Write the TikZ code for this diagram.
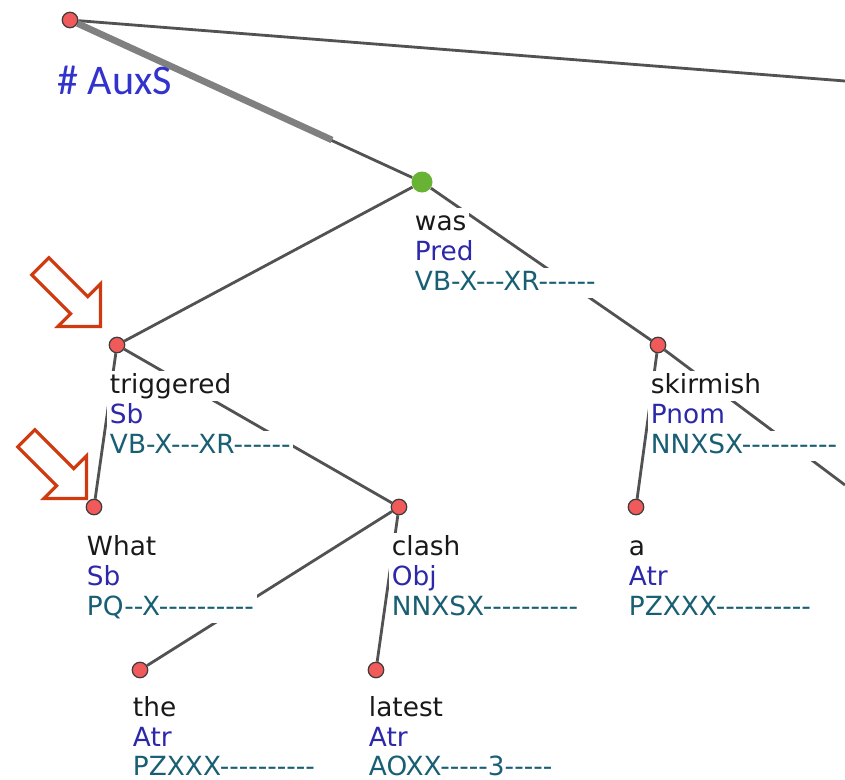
\documentclass[tikz,border=0pt]{standalone}
\usepackage{fontspec}
\setmainfont{DejaVu Sans}[Ligatures=TeXOff]
\newfontfamily\auxfont{Carlito}
\usetikzlibrary{shapes.arrows}
\definecolor{edgegray}{RGB}{82,82,82}
\definecolor{thickgray}{RGB}{128,128,128}
\definecolor{dotred}{RGB}{240,90,90}
\definecolor{dotline}{RGB}{60,60,60}
\definecolor{headgreen}{RGB}{104,178,52}
\definecolor{funcblue}{RGB}{45,40,170}
\definecolor{tagteal}{RGB}{25,95,115}
\definecolor{auxblue}{RGB}{50,50,205}
\definecolor{pointred}{RGB}{208,58,16}
\begin{document}
\begin{tikzpicture}[x=0.02cm, y=-0.02cm, font=\fontsize{15}{17}\selectfont,
  dot/.style={circle, draw=dotline, fill=dotred, line width=0.7pt, inner sep=0pt, minimum size=0.31cm},
  head/.style={circle, fill=headgreen, inner sep=0pt, minimum size=0.42cm},
  edge/.style={draw=edgegray, line width=1.6pt},
  word/.style={anchor=base west, fill=white, inner sep=1.5pt, text height=11pt, text depth=3pt, text=black!90},
  func/.style={word, text=funcblue},
  tag/.style={word, text=tagteal},
  pointer/.style={single arrow, draw=pointred, line width=1.8pt, rotate=-45, anchor=tip,
    inner xsep=0pt, inner ysep=0.21cm, minimum height=1.7cm, single arrow head extend=0.36cm}]
\useasboundingbox (0,0) rectangle (845,779);
% tree nodes
\node[dot] (root) at (70,20) {};
\node[head] (was) at (422,182) {};
\node[dot] (trig) at (117,345) {};
\node[dot] (skir) at (658,345) {};
\node[dot] (what) at (94,507) {};
\node[dot] (clash) at (399,507) {};
\node[dot] (art) at (636,507) {};
\node[dot] (the) at (140,670) {};
\node[dot] (latest) at (376,670) {};
\coordinate (offr) at (845,81);
\coordinate (offd) at (845,485);
\coordinate (auxend) at (332,140);
% edges
\draw[edge] (root) -- (offr);
\draw[edge] (root) -- (was);
\draw[draw=thickgray, line width=3.8pt] (root) -- (auxend);
\draw[edge] (was) -- (trig);
\draw[edge] (was) -- (skir);
\draw[edge] (skir) -- (offd);
\draw[edge] (trig) -- (what);
\draw[edge] (trig) -- (clash);
\draw[edge] (clash) -- (the);
\draw[edge] (clash) -- (latest);
\draw[edge] (skir) -- (art);
% labels
\node[anchor=base west, inner sep=0pt, text=auxblue, font=\auxfont\fontsize{24}{28}\selectfont] (aux) at (57,94) {\# AuxS};
\node[word] (w_was) at (412,230) {was};
\node[func] (f_was) at (412,260) {Pred};
\node[tag] (t_was) at (412,290) {VB-X---XR------};
\node[word] (w_trig) at (107,393) {triggered};
\node[func] (f_trig) at (107,423) {Sb};
\node[tag] (t_trig) at (107,453) {VB-X---XR------};
\node[word] (w_skir) at (648,393) {skirmish};
\node[func] (f_skir) at (648,423) {Pnom};
\node[tag] (t_skir) at (648,453) {NNXSX----------};
\node[word] (w_what) at (84,555) {What};
\node[func] (f_what) at (84,585) {Sb};
\node[tag] (t_what) at (84,615) {PQ--X----------};
\node[word] (w_clash) at (389,555) {clash};
\node[func] (f_clash) at (389,585) {Obj};
\node[tag] (t_clash) at (389,615) {NNXSX----------};
\node[word] (w_art) at (626,555) {a};
\node[func] (f_art) at (626,585) {Atr};
\node[tag] (t_art) at (626,615) {PZXXX----------};
\node[word] (w_the) at (130,716) {the};
\node[func] (f_the) at (130,746) {Atr};
\node[tag] (t_the) at (130,775) {PZXXX----------};
\node[word] (w_latest) at (366,716) {latest};
\node[func] (f_latest) at (366,746) {Atr};
\node[tag] (t_latest) at (366,775) {AOXX-----3-----};
% pointers
\node[pointer] (ptr_trig) at (102,328) {};
\node[pointer] (ptr_what) at (88,500) {};
\end{tikzpicture}
\end{document}
